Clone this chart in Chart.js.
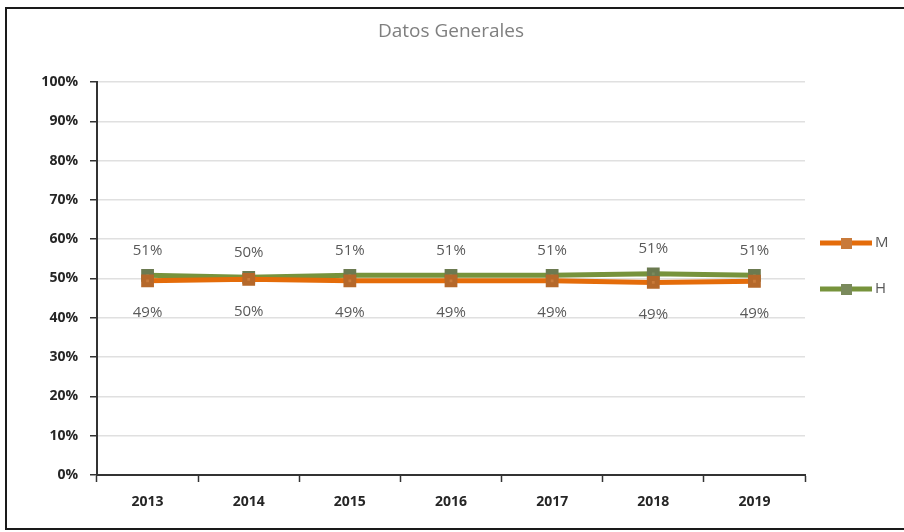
<!DOCTYPE html>
<html>
<head>
<meta charset="utf-8">
<script src="https://cdn.jsdelivr.net/npm/chart.js@4"></script>
<style>
  html, body { margin: 0; padding: 0; background: #fff; }
  #wrap { position: relative; width: 904px; height: 532px; }
  #frame {
    position: absolute; left: 5px; top: 7px; width: 905px; height: 519px;
    border-left: 2px solid #1a1a1a; border-top: 2px solid #1a1a1a; border-bottom: 2px solid #1a1a1a;
    pointer-events: none;
  }
</style>
</head>
<body>
<div id="wrap">
  <canvas id="chart" width="904" height="532"></canvas>
  <div id="frame"></div>
</div>
<script>
// chart data
const chartTitle = 'Datos Generales';
const years = ['2013', '2014', '2015', '2016', '2017', '2018', '2019'];
const mujeres = [0.494, 0.498, 0.494, 0.494, 0.494, 0.490, 0.493];
const hombres = [0.508, 0.503, 0.508, 0.508, 0.508, 0.512, 0.508];
const yTicks = [0, 0.1, 0.2, 0.3, 0.4, 0.5, 0.6, 0.7, 0.8, 0.9, 1];

const orange = '#E46C0A';
const green = '#77933C';
const textFont = '"Open Sans"';

// title centred over the plot, percent labels above (H) and below (M) each point
const pointLabels = {
  id: 'pointLabels',
  afterDatasetsDraw(chart) {
    const ctx = chart.ctx;
    const area = chart.chartArea;
    ctx.save();
    ctx.textAlign = 'center';
    ctx.textBaseline = 'middle';
    ctx.font = '19px ' + textFont;
    ctx.fillStyle = '#7f7f7f';
    ctx.fillText(chartTitle, (area.left + area.right) / 2, 32);

    ctx.font = '15px ' + textFont;
    ctx.fillStyle = '#595959';
    chart.data.datasets.forEach((ds, i) => {
      const meta = chart.getDatasetMeta(i);
      meta.data.forEach((pt, j) => {
        const txt = Math.round(ds.data[j] * 100) + '%';
        const dy = ds.label === 'H' ? -25 : 32;
        ctx.fillText(txt, pt.x, pt.y + dy);
      });
    });
    ctx.restore();
  }
};

// legend on the right: line with square marker
const sideLegend = {
  id: 'sideLegend',
  afterDraw(chart) {
    const ctx = chart.ctx;
    const rows = [{ y: 243, ds: chart.data.datasets[0] }, { y: 289, ds: chart.data.datasets[1] }];
    ctx.save();
    rows.forEach(r => {
      ctx.strokeStyle = r.ds.borderColor;
      ctx.lineWidth = 5;
      ctx.beginPath();
      ctx.moveTo(820, r.y);
      ctx.lineTo(872, r.y);
      ctx.stroke();
      ctx.fillStyle = r.ds.pointBackgroundColor;
      ctx.fillRect(841, r.y - 5, 11, 11);
      ctx.font = '15px ' + textFont;
      ctx.fillStyle = '#595959';
      ctx.textAlign = 'left';
      ctx.textBaseline = 'middle';
      ctx.fillText(r.ds.label, 875, r.y);
    });
    ctx.restore();
  }
};

new Chart(document.getElementById('chart'), {
  type: 'line',
  data: {
    labels: years,
    datasets: [{
      label: 'M',
      data: mujeres,
      borderColor: orange,
      backgroundColor: orange,
      borderWidth: 5,
      pointStyle: 'rect',
      pointRadius: 5.5,
      pointBackgroundColor: '#c97a3a',
      pointBorderColor: '#b5682a',
      tension: 0
    }, {
      label: 'H',
      data: hombres,
      borderColor: green,
      backgroundColor: green,
      borderWidth: 5,
      pointStyle: 'rect',
      pointRadius: 5.5,
      pointBackgroundColor: '#7a8a5c',
      pointBorderColor: '#6b7a50',
      tension: 0
    }]
  },
  options: {
    responsive: false,
    animation: false,
    layout: { padding: { top: 82, right: 99, bottom: 0, left: 0 } },
    plugins: {
      legend: { display: false },
      tooltip: { enabled: false },
      title: { display: false }
    },
    scales: {
      x: {
        offset: true,
        grid: {
          offset: true,
          drawOnChartArea: false,
          drawTicks: true,
          tickLength: 7,
          tickColor: '#333',
          tickWidth: 1.5
        },
        border: { color: '#333', width: 2 },
        ticks: {
          color: '#262626',
          padding: 12,
          font: { family: 'Open Sans', size: 14, weight: 'bold' }
        },
        afterFit(scale) { scale.height = 57; }
      },
      y: {
        min: 0,
        max: 1,
        afterBuildTicks(scale) { scale.ticks = yTicks.map(v => ({ value: v })); },
        grid: {
          color: '#e0e0e0',
          lineWidth: 1.5,
          drawTicks: true,
          tickLength: 7,
          tickColor: '#333',
          tickWidth: 1.5
        },
        border: { color: '#333', width: 2 },
        ticks: {
          color: '#262626',
          padding: 12,
          font: { family: 'Open Sans', size: 14, weight: 'bold' },
          callback: v => Math.round(v * 100) + '%'
        },
        afterFit(scale) { scale.width = 97; }
      }
    }
  },
  plugins: [pointLabels, sideLegend]
});
</script>
</body>
</html>
